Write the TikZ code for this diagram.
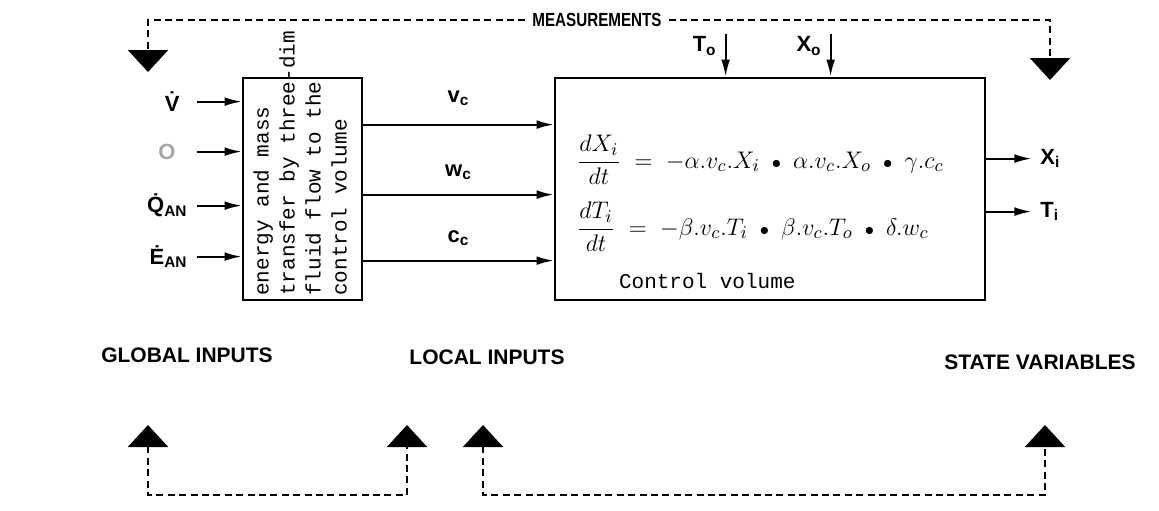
\documentclass[tikz,border=0pt]{standalone}
\usepackage{fontspec}
\usepackage{amsmath}
\setmainfont{Liberation Sans}
\setmonofont{Liberation Mono}
\newfontfamily\narrowfont{Liberation Sans}[FakeStretch=0.8]
\usepackage{tikz}
\usetikzlibrary{arrows.meta,positioning}

\newcommand{\bdot}{\;\mathbin{\scriptstyle\bullet}\;}

\begin{document}
\begin{tikzpicture}[
  x=0.5pt, y=-0.5pt,
  font=\bfseries\fontsize{10.5}{12}\selectfont,
  box/.style={draw, line width=1.4pt, minimum height=111pt, inner sep=0pt},
  arr/.style={-{Latex[length=8.5pt,width=4.4pt]}, line width=1pt},
  meas/.style={line width=1.1pt, dash pattern=on 3.5pt off 2.2pt},
  bigtip/.tip={Triangle[length=11pt,width=20pt]},
  sig/.style={inner sep=1pt, font=\bfseries\fontsize{11}{12}\selectfont},
  eqn/.style={anchor=west, font=\mdseries\fontsize{13}{15}\selectfont}
]
\useasboundingbox (0,0) rectangle (1159,510);

% boxes
\node[box, minimum width=59.5pt] (mix) at (302.5,189) {};
\node[box, minimum width=215pt] (cv) at (770,189) {};
\node[rotate=90, anchor=north west, align=left, inner sep=0pt,
      font=\ttfamily\mdseries\fontsize{10.5}{13}\selectfont] (mixtxt) at (253,296)
  {energy and mass\\transfer by three-dim\\fluid flow to the\\control volume};

% global inputs
\draw[arr] ([xshift=-22.5pt,yshift=-12.5pt]mix.north west) node[sig, left=7pt] (vdot) {V̇} -- ([yshift=-12.5pt]mix.north west);
\draw[arr] ([xshift=-22.5pt,yshift=-37.5pt]mix.north west) node[sig, left=9pt, text=gray!70] (ozero) {O} -- ([yshift=-37.5pt]mix.north west);
\draw[arr] ([xshift=-22.5pt,yshift=-64.5pt]mix.north west) node[sig, left=3pt] (qan) {Q̇\textsubscript{AN}} -- ([yshift=-64.5pt]mix.north west);
\draw[arr] ([xshift=-22.5pt,yshift=-90pt]mix.north west) node[sig, left=3pt] (ean) {Ė\textsubscript{AN}} -- ([yshift=-90pt]mix.north west);

% local inputs
\draw[arr] ([yshift=-24pt]mix.north east) -- node[sig, above=8pt] (vc) {v\textsubscript{c}} ([yshift=-24pt]cv.north west);
\draw[arr] ([yshift=-59pt]mix.north east) -- node[sig, above=6pt] (wc) {w\textsubscript{c}} ([yshift=-59pt]cv.north west);
\draw[arr] ([yshift=-92pt]mix.north east) -- node[sig, above=6pt] (cc) {c\textsubscript{c}} ([yshift=-92pt]cv.north west);

% outside temperature and concentration
\draw[arr] ([xshift=86pt,yshift=21.5pt]cv.north west) node[sig, anchor=north east, xshift=-3pt] (to) {T\textsubscript{o}} -- ([xshift=86pt]cv.north west);
\draw[arr] ([xshift=138.5pt,yshift=21.5pt]cv.north west) node[sig, anchor=north east, xshift=-3pt] (xo) {X\textsubscript{o}} -- ([xshift=138.5pt]cv.north west);

% balance equations
\node[eqn] (eqx) at (570,160)
  {$\dfrac{dX_i}{dt} \;=\; -\alpha.v_c.X_i \bdot \alpha.v_c.X_o \bdot \gamma.c_c$};
\node[eqn] (eqt) at (570,227)
  {$\dfrac{dT_i}{dt} \;=\; -\beta.v_c.T_i \bdot \beta.v_c.T_o \bdot \delta.w_c$};
\node[anchor=west, font=\ttfamily\mdseries\fontsize{10.5}{12}\selectfont] (cvtxt) at (612,281) {Control volume};

% state variables
\draw[arr] ([yshift=-41pt]cv.north east) -- ++(22.5pt,0) node[sig, right=3pt] (xi) {X\textsubscript{i}};
\draw[arr] ([yshift=-67.5pt]cv.north east) -- ++(22.5pt,0) node[sig, right=3pt] (ti) {T\textsubscript{i}};

% group labels
\node (glob) at (187,355) {GLOBAL INPUTS};
\node (loc) at (487,357) {LOCAL INPUTS};
\node (state) at (1040,362) {STATE VARIABLES};
\node[font=\narrowfont\bfseries\fontsize{9.5}{11}\selectfont] (meastxt) at (597,20) {MEASUREMENTS};

% measurement and feedback paths
\coordinate (gtop) at (148,72);
\coordinate (stop) at (1050,80);
\coordinate (gbot) at (148,425);
\coordinate (lbot1) at (407,425);
\coordinate (lbot2) at (483,425);
\coordinate (sbot) at (1045,425);
\draw[meas, -bigtip] (meastxt.west) -| (gtop);
\draw[meas, -bigtip] (meastxt.east) -| (stop);
\draw[meas, bigtip-bigtip] (gbot) -- ++(0,70) -| (lbot1);
\draw[meas, bigtip-bigtip] (lbot2) -- ++(0,70) -| (sbot);
\end{tikzpicture}
\end{document}
